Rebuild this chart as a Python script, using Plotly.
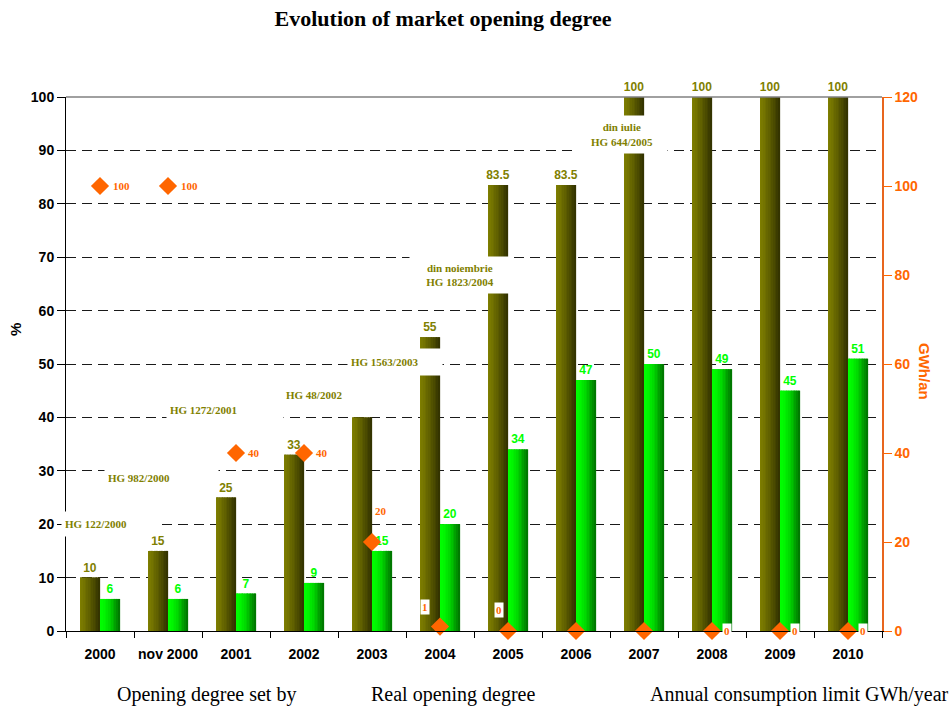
import plotly.graph_objects as go

# ---- data -----------------------------------------------------------------
categories = ["2000", "nov 2000", "2001", "2002", "2003", "2004",
              "2005", "2006", "2007", "2008", "2009", "2010"]
set_degree = [10, 15, 25, 33, 40, 55, 83.5, 83.5, 100, 100, 100, 100]
set_degree_shown = [True, True, True, True, False, True,
                    True, True, True, True, True, True]
real_degree = [6, 6, 7, 9, 15, 20, 34, 47, 50, 49, 45, 51]
consumption_limit = [100, 100, 40, 40, 20, 1, 0, 0, 0, 0, 0, 0]

# government decisions (HG) written inside the plot
decision_texts = ["HG 122/2000", "HG 982/2000", "HG 1272/2001", "HG 48/2002",
                  "HG 1563/2003", "din noiembrie<br>HG 1823/2004",
                  "din iulie<br>HG 644/2005", "din iulie<br>HG 638/2007"]

legend_texts = ["Opening degree set by", "Real opening degree",
                "Annual consumption limit GWh/year"]

# ---- styling --------------------------------------------------------------
SANS = "Liberation Sans, Arial, sans-serif"
SERIF = "Liberation Serif, Times New Roman, serif"
OLIVE = "#808000"
GREEN = "#00FF00"
ORANGE = "#FF6600"
BAR_W = 0.294          # width of one bar, in category units
SLICES = 12            # number of strips used for the horizontal shading
PLOT_W, PLOT_H = 816, 534


def mix(c0, c1, t):
    return "rgb({},{},{})".format(*[round(a + (b - a) * t) for a, b in zip(c0, c1)])


def shaded_bar(values, labels, c0, c1, power, offset, textcolor):
    """A bar series drawn as a base bar carrying the value labels,
    overlaid with thin strips that shade it from left to right."""
    traces = [go.Bar(
        x=categories, y=values, offset=offset, width=BAR_W,
        marker=dict(color=mix(c0, c1, 0.5), line=dict(width=0)),
        text=labels, textposition="outside", constraintext="none",
        textfont=dict(family=SANS, size=12, color=textcolor, weight="bold"),
        cliponaxis=False, hoverinfo="skip", showlegend=False)]
    step = BAR_W / SLICES
    for k in range(SLICES):
        t = (k + 0.5) / SLICES
        traces.append(go.Bar(
            x=categories, y=values, offset=offset + k * step, width=step * 1.08,
            marker=dict(color=mix(c0, c1, t ** power), line=dict(width=0)),
            hoverinfo="skip", showlegend=False))
    return traces


fig = go.Figure()

olive_labels = [f"{v:g}" if s else "" for v, s in zip(set_degree, set_degree_shown)]
for tr in shaded_bar(set_degree, olive_labels, (128, 128, 0), (48, 48, 0), 1.2,
                     -BAR_W, OLIVE):
    fig.add_trace(tr)

green_labels = [f"{v:g}" for v in real_degree]
for tr in shaded_bar(real_degree, green_labels, (0, 255, 0), (0, 110, 0), 1.8,
                     0.0, GREEN):
    fig.add_trace(tr)

fig.add_trace(go.Scatter(
    x=categories, y=consumption_limit, yaxis="y2", mode="markers",
    marker=dict(symbol="diamond", size=14, color=ORANGE, line=dict(width=0)),
    cliponaxis=False, hoverinfo="skip", showlegend=False))

annotations = []

# value labels of the consumption limit: (index, dx, dy, boxed)
limit_label_layout = [(0, 21, 0, False), (1, 21, 0, False), (2, 18, 0, False),
                      (3, 18, 0, False), (4, 9, 31, False), (5, -15, 20, True),
                      (6, -9, 21, True), (9, 15, 0, True), (10, 15, 0, True),
                      (11, 15, 0, True)]
for i, dx, dy, boxed in limit_label_layout:
    annotations.append(dict(
        x=i, y=consumption_limit[i], xref="x", yref="y2",
        text=f"{consumption_limit[i]:g}", showarrow=False,
        xshift=dx, yshift=dy, borderpad=1,
        bgcolor="white" if boxed else "rgba(0,0,0,0)",
        font=dict(family=SERIF, size=11, color=ORANGE, weight="bold")))

# decision notes: (x index, y %, width, height, align, white box)
decision_layout = [(0.147, 20.0, 90, 18, "left", True),
                   (0.904, 28.6, 107, 20, "left", True),
                   (1.838, 41.4, 110, 16, "left", True),
                   (3.147, 44.2, None, None, "center", True),
                   (4.338, 50.4, 88, 20, "left", True),
                   (5.294, 66.7, 94, 30, "center", True),
                   (7.676, 93.0, 84, 31, "center", True),
                   (9.94, 108.0, None, None, "center", False)]
for text, (x, y, w, h, al, boxed) in zip(decision_texts, decision_layout):
    a = dict(x=x, y=y, xref="x", yref="y", text=f"<b>{text}</b>",
             showarrow=False, align=al, borderpad=3,
             xanchor="center", yanchor="middle",
             bgcolor="white" if boxed else "rgba(0,0,0,0)",
             font=dict(family=SERIF, size=11, color=OLIVE))
    if w:
        a["width"] = w
    if h:
        a["height"] = h
    annotations.append(a)

# left axis title
annotations.append(dict(
    x=(15 - 66) / PLOT_W, y=(631 - 330) / PLOT_H, xref="paper", yref="paper",
    xanchor="center", yanchor="middle",
    text="%", textangle=-90, showarrow=False,
    font=dict(family=SANS, size=15, color="black", weight="bold")))

# right axis title, written top to bottom
annotations.append(dict(
    x=(924 - 66) / PLOT_W, y=(631 - 371) / PLOT_H, xref="paper", yref="paper",
    xanchor="center", yanchor="middle",
    text="GWh/an", textangle=90, showarrow=False,
    font=dict(family=SANS, size=15, color=ORANGE, weight="bold")))

# series captions under the chart
for text, px in zip(legend_texts, [206, 453, 799]):
    annotations.append(dict(
        x=(px - 66) / PLOT_W, y=(631 - 694) / PLOT_H, xref="paper", yref="paper",
        xanchor="center", yanchor="middle",
        text=text, showarrow=False,
        font=dict(family=SERIF, size=20, color="black")))

fig.update_layout(
    width=951, height=709,
    margin=dict(l=66, r=69, t=97, b=78, autoexpand=False),
    paper_bgcolor="white", plot_bgcolor="white",
    barmode="overlay",
    title=dict(text="<b>Evolution of market opening degree</b>",
               x=443 / 951, xanchor="center", xref="container",
               y=1 - 18 / 709, yanchor="middle", yref="container",
               font=dict(family=SERIF, size=22, color="black")),
    xaxis=dict(type="category", range=[-0.5, len(categories) - 0.5],
               tickson="boundaries", ticks="outside",
               ticklen=6, tickcolor="black", showline=True, linecolor="black",
               linewidth=1, showgrid=False, zeroline=False, tickangle=0,
               automargin=False, ticklabelstandoff=10,
               tickfont=dict(family=SANS, size=14, color="black", weight="bold")),
    yaxis=dict(range=[0, 100], dtick=10, ticks="outside", ticklen=8,
               tickcolor="black", showline=True, linecolor="black", linewidth=1,
               showgrid=True, gridcolor="#1a1a1a", gridwidth=1,
               griddash="10px,6px", zeroline=False, automargin=False,
               tickfont=dict(family=SANS, size=14, color="black", weight="bold")),
    yaxis2=dict(range=[0, 120], dtick=20, overlaying="y", side="right",
                ticks="outside", ticklen=8, tickcolor=ORANGE, showline=True,
                linecolor="#E8661E", linewidth=1.5, showgrid=False,
                zeroline=False, automargin=False,
                tickfont=dict(family=SANS, size=14, color=ORANGE, weight="bold")),
    shapes=[dict(type="line", xref="paper", yref="paper", x0=0, x1=1, y0=1, y1=1,
                 line=dict(color="#808080", width=1.5))],
    annotations=annotations,
)

fig.write_html("out.html")
